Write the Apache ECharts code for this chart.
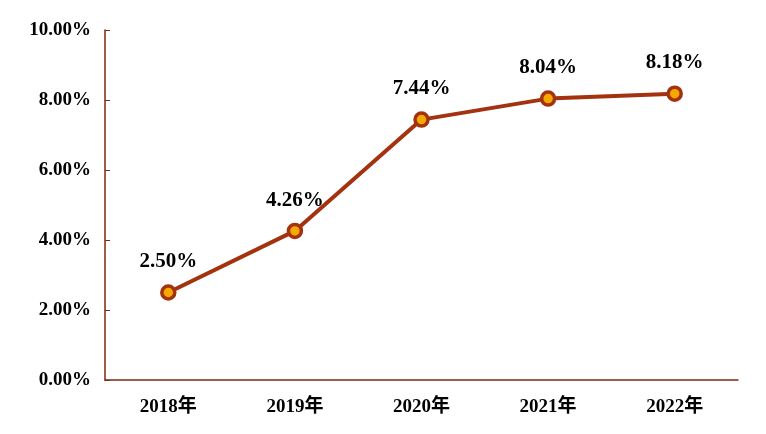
<!DOCTYPE html><html><head><meta charset="utf-8"><script src="https://cdn.jsdelivr.net/npm/echarts@6/dist/echarts.min.js"></script></head><body style="margin:0"><div id="c" style="width:766px;height:434px"></div><script>
var categories=['2018年','2019年','2020年','2021年','2022年'];
var values=[2.50,4.26,7.44,8.04,8.18];
var c=echarts.init(document.getElementById('c'));
var font={fontFamily:'Liberation Serif, Noto Sans CJK SC',fontWeight:'bold',fontSize:19,color:'#000'};
c.setOption({animation:false,
grid:{left:105,right:28,top:30,bottom:54},
xAxis:{type:'category',data:categories,axisLine:{lineStyle:{color:'#7a2a10',width:1.5}},axisTick:{show:false},axisLabel:Object.assign({margin:18},font)},
yAxis:{type:'value',min:0,max:10,interval:2,splitLine:{show:false},axisLine:{show:true,lineStyle:{color:'#7a2a10',width:1.5}},axisTick:{show:true,inside:true,length:5,lineStyle:{color:'#7a2a10'}},axisLabel:Object.assign({margin:14,formatter:function(v){return v.toFixed(2)+'%';}},font)},
series:[{type:'line',data:values,lineStyle:{color:'#a3320f',width:4},symbol:'circle',symbolSize:13,itemStyle:{color:'#f5a800',borderColor:'#a3320f',borderWidth:3.5},
label:{show:true,position:'top',distance:12,formatter:function(p){return p.value.toFixed(2)+'%';},fontFamily:'Liberation Serif',fontWeight:'bold',fontSize:21,color:'#000'}}]});
</script></body></html>
